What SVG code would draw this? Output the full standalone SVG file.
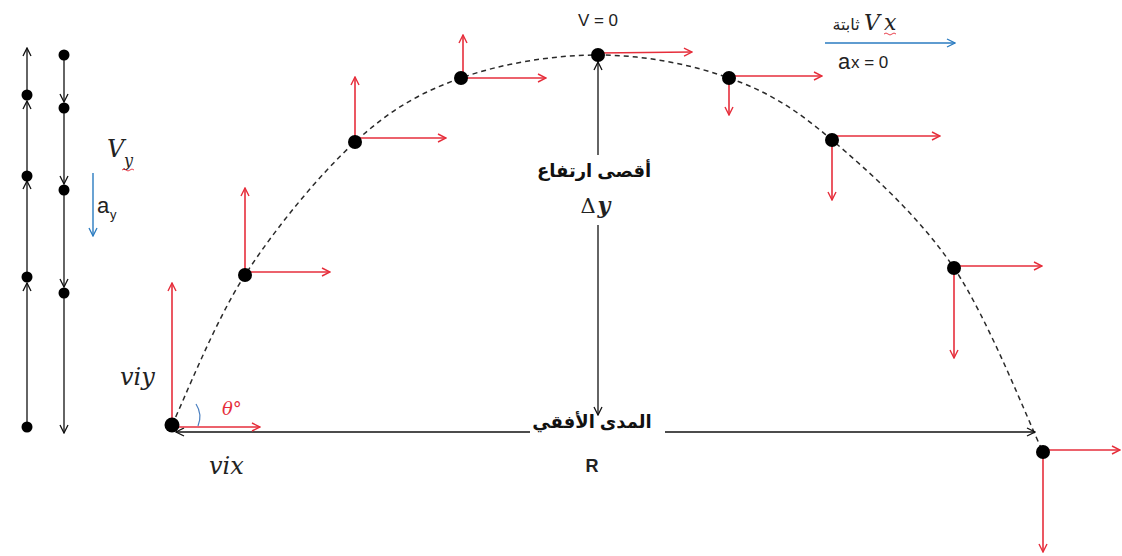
<svg xmlns="http://www.w3.org/2000/svg" width="1122" height="556" viewBox="0 0 1122 556">
<defs>
<style>
.red{stroke:#e62e3b;stroke-width:1.6;fill:none;marker-end:url(#mr)}
.blk{stroke:#111;stroke-width:1.3;fill:none}
.dot{fill:#000}
.math{font-family:"DejaVu Serif","Liberation Serif",serif;font-style:italic}
.sans{font-family:"Liberation Sans","DejaVu Sans",sans-serif}
.ar{font-family:"Liberation Sans","DejaVu Sans","Noto Sans",sans-serif;font-weight:bold;font-size:18px;fill:#111}
</style>
<marker id="mr" viewBox="0 0 10 10" refX="9" refY="5" markerWidth="10" markerHeight="10" markerUnits="userSpaceOnUse" orient="auto"><path d="M1,1 L9,5 L1,9" fill="none" stroke="#e62e3b" stroke-width="1.4"/></marker>
<marker id="mk" viewBox="0 0 10 10" refX="9" refY="5" markerWidth="10" markerHeight="10" markerUnits="userSpaceOnUse" orient="auto-start-reverse"><path d="M1,1 L9,5 L1,9" fill="none" stroke="#111" stroke-width="1.3"/></marker>
<marker id="mb" viewBox="0 0 10 10" refX="9" refY="5" markerWidth="10" markerHeight="10" markerUnits="userSpaceOnUse" orient="auto"><path d="M1,1 L9,5 L1,9" fill="none" stroke="#2a7bc0" stroke-width="1.3"/></marker>
</defs>
<rect width="1122" height="556" fill="#fff"/>

<g id="connectors">
<path id="trajectory" d="M172,425 C184,400 214.5,322 245,275 C275.5,228 319,175 355,142 C391,109 420.5,92.5 461,78 C501.5,63.5 553,55 598,55 C643,55 690,64 729,78 C768,92 794.5,108 832,140 C869.5,172 919,216 954,268 C989,320 1028,421 1043,452" fill="none" stroke="#2a2a2a" stroke-width="1.5" stroke-dasharray="5,4"/>
<line class="blk" x1="27" y1="427" x2="27" y2="283" marker-end="url(#mk)"/>
<line class="blk" x1="27" y1="277" x2="27" y2="181" marker-end="url(#mk)"/>
<line class="blk" x1="27" y1="175" x2="27" y2="101" marker-end="url(#mk)"/>
<line class="blk" x1="27" y1="95" x2="27" y2="48" marker-end="url(#mk)"/>
<line class="blk" x1="64" y1="55" x2="64" y2="102" marker-end="url(#mk)"/>
<line class="blk" x1="64" y1="109" x2="64" y2="184" marker-end="url(#mk)"/>
<line class="blk" x1="64" y1="190" x2="64" y2="287" marker-end="url(#mk)"/>
<line class="blk" x1="64" y1="293" x2="64" y2="433" marker-end="url(#mk)"/>
<line x1="93" y1="173" x2="93" y2="236" stroke="#2a7bc0" stroke-width="1.4" marker-end="url(#mb)"/>
<line class="blk" x1="176" y1="432" x2="530" y2="432" marker-start="url(#mk)"/>
<line class="blk" x1="665" y1="432" x2="1035" y2="432" marker-end="url(#mk)"/>
<line class="blk" x1="598" y1="155" x2="598" y2="62" marker-end="url(#mk)"/>
<line class="blk" x1="598" y1="225" x2="598" y2="415" marker-end="url(#mk)"/>
<line x1="825" y1="43" x2="955" y2="43" stroke="#2a7bc0" stroke-width="1.4" marker-end="url(#mb)"/>
<path d="M196,404 A24,24 0 0 1 198,426" fill="none" stroke="#4a7fc0" stroke-width="1.2"/>
</g>

<g id="left-dots">
<circle class="dot" cx="27" cy="95" r="5.5"/><circle class="dot" cx="27" cy="176" r="5.5"/><circle class="dot" cx="27" cy="277" r="5.5"/><circle class="dot" cx="27" cy="427" r="5.5"/>
<circle class="dot" cx="64" cy="55" r="5.5"/><circle class="dot" cx="64" cy="108" r="5.5"/><circle class="dot" cx="64" cy="190" r="5.5"/><circle class="dot" cx="64" cy="293" r="5.5"/>
</g>

<g id="p0"><line class="red" x1="172" y1="425" x2="172" y2="283"/><line class="red" x1="172" y1="427" x2="260" y2="427"/><circle class="dot" cx="172" cy="425" r="7.5"/></g>
<g id="p1"><line class="red" x1="245" y1="275" x2="245" y2="188"/><line class="red" x1="245" y1="272" x2="330" y2="272"/><circle class="dot" cx="245" cy="275" r="7"/></g>
<g id="p2"><line class="red" x1="355" y1="142" x2="355" y2="77"/><line class="red" x1="355" y1="138" x2="446" y2="138"/><circle class="dot" cx="355" cy="142" r="7"/></g>
<g id="p3"><line class="red" x1="463" y1="78" x2="463" y2="35"/><line class="red" x1="461" y1="78" x2="546" y2="78"/><circle class="dot" cx="461" cy="78" r="7"/></g>
<g id="p4"><line class="red" x1="598" y1="53" x2="692" y2="52"/><circle class="dot" cx="598" cy="55" r="7"/></g>
<g id="p5"><line class="red" x1="729" y1="78" x2="729" y2="115"/><line class="red" x1="729" y1="76" x2="822" y2="76"/><circle class="dot" cx="729" cy="78" r="7"/></g>
<g id="p6"><line class="red" x1="832" y1="140" x2="832" y2="200"/><line class="red" x1="832" y1="136" x2="940" y2="136"/><circle class="dot" cx="832" cy="140" r="7"/></g>
<g id="p7"><line class="red" x1="954" y1="268" x2="954" y2="358"/><line class="red" x1="954" y1="266" x2="1042" y2="266"/><circle class="dot" cx="954" cy="268" r="7"/></g>
<g id="p8"><line class="red" x1="1043" y1="452" x2="1043" y2="552"/><line class="red" x1="1043" y1="450" x2="1120" y2="450"/><circle class="dot" cx="1043" cy="452" r="7"/></g>

<g id="labels">
<text x="107" y="157" class="math" font-size="24" fill="#222">V</text>
<text x="124" y="166" class="math" font-size="16" fill="#222">y</text>
<path d="M122,170 q2,-2 4,0 t4,0 t4,0" fill="none" stroke="#e62e3b" stroke-width="0.9"/>
<text x="97" y="213" class="sans" font-size="22" fill="#222">a</text>
<text x="110" y="219" class="sans" font-size="13" fill="#222">y</text>
<text x="120" y="385" class="math" font-size="24" fill="#222">viy</text>
<text x="209" y="474" class="math" font-size="24" fill="#222">vix</text>
<text x="222" y="415" class="math" font-size="18" fill="#e62e3b">θ°</text>
<text x="598" y="26" class="sans" font-size="17" fill="#222" text-anchor="middle">V = 0</text>
<text x="594" y="177" class="ar" text-anchor="middle" direction="rtl">أقصى ارتفاع</text>
<text x="588" y="213" font-family="DejaVu Serif,serif" font-size="21" fill="#222" text-anchor="middle">Δ</text>
<text x="604" y="213" class="math" font-size="22" font-weight="bold" fill="#222" text-anchor="middle">y</text>
<text x="592" y="428" class="ar" text-anchor="middle" direction="rtl">المدى الأفقي</text>
<text x="592" y="472" class="sans" font-size="18" font-weight="bold" fill="#222" text-anchor="middle">R</text>
<text x="846" y="30" font-family="Liberation Sans,DejaVu Sans,sans-serif" font-size="16" fill="#222" text-anchor="middle">ثابتة</text>
<text x="864" y="30" class="math" font-size="22" fill="#222">V</text>
<text x="884" y="30" class="math" font-size="22" fill="#222">x</text>
<path d="M884,34 q2,-2 4,0 t4,0 t4,0" fill="none" stroke="#e62e3b" stroke-width="0.9"/>
<text x="838" y="69" class="sans" font-size="22" fill="#222">a</text>
<text x="851" y="68" class="sans" font-size="17" fill="#222">x = 0</text>
</g>
</svg>
